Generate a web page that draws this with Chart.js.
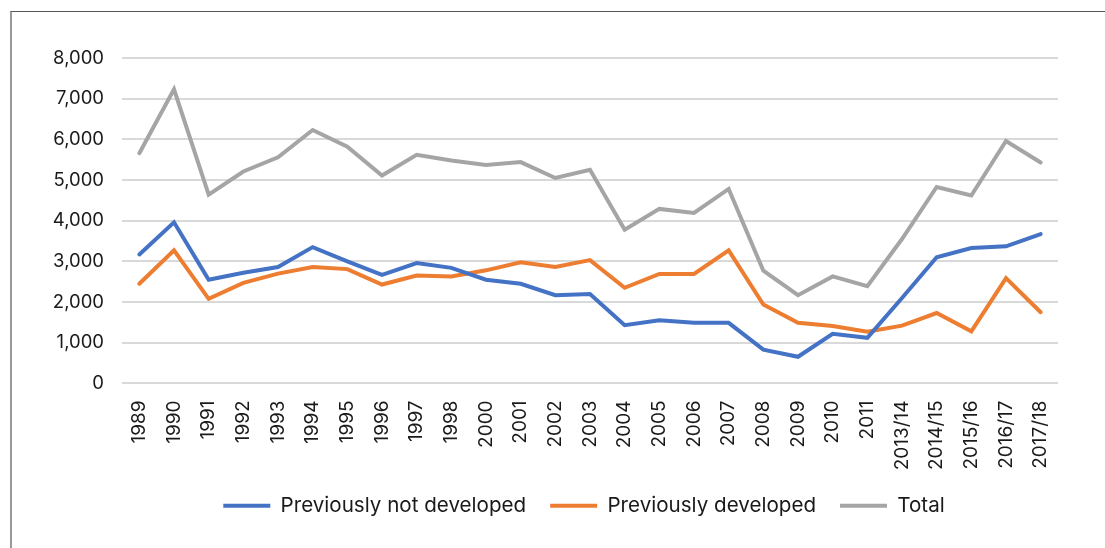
<!DOCTYPE html>
<html>
<head>
<meta charset="utf-8">
<script src="https://cdn.jsdelivr.net/npm/chart.js@4/dist/chart.umd.min.js"></script>
<style>
    html, body { margin: 0; padding: 0; background: #fff; }
    #wrap { position: relative; width: 1105px; height: 548px; overflow: hidden; }
    #frame {
        position: absolute; left: 10px; top: 11px; right: -10px; bottom: -10px;
        border-top: 1px solid #555; border-left: 2px solid #999;
    }
    #chart { position: absolute; left: 0; top: 0; }
</style>
</head>
<body>
<div id="wrap">
    <div id="frame"></div>
    <canvas id="chart" width="1105" height="548"></canvas>
</div>
<script>
// Categories (years)
const years = ['1989', '1990', '1991', '1992', '1993', '1994', '1995', '1996', '1997', '1998',
    '2000', '2001', '2002', '2003', '2004', '2005', '2006', '2007', '2008', '2009', '2010', '2011',
    '2013/14', '2014/15', '2015/16', '2016/17', '2017/18'];

// Series values
const notDeveloped = [3170, 3960, 2550, 2720, 2860, 3350, 3000, 2670, 2960, 2840,
    2550, 2450, 2170, 2200, 1430, 1550, 1490, 1490, 830, 655, 1220, 1120,
    2100, 3100, 3330, 3370, 3670];
const developed = [2450, 3270, 2080, 2470, 2700, 2860, 2810, 2430, 2650, 2630,
    2780, 2980, 2860, 3030, 2350, 2690, 2690, 3270, 1940, 1490, 1410, 1270,
    1420, 1730, 1280, 2590, 1750];
const total = [5660, 7230, 4640, 5210, 5560, 6230, 5820, 5110, 5620, 5480,
    5370, 5440, 5050, 5250, 3780, 4290, 4190, 4780, 2770, 2170, 2630, 2390,
    3550, 4830, 4620, 5960, 5430];

// Y axis ticks
const yTicks = [0, 1000, 2000, 3000, 4000, 5000, 6000, 7000, 8000];

const TEXT = '#1a1a1a';

function series(label, data, color) {
    return {
        label: label,
        data: data,
        borderColor: color,
        backgroundColor: color,
        borderWidth: 4,
        borderCapStyle: 'round',
        borderJoinStyle: 'miter',
        pointRadius: 0,
        tension: 0,
        fill: false
    };
}

// Legend is centred under the plot area rather than the whole canvas
const shiftLegend = {
    id: 'shiftLegend',
    afterLayout: function(chart) {
        chart.legend.left += 55;
        chart.legend.right += 55;
    }
};

const ctx = document.getElementById('chart').getContext('2d');
new Chart(ctx, {
    type: 'line',
    data: {
        labels: years,
        datasets: [
            series('Previously not developed', notDeveloped, '#4472C4'),
            series('Previously developed', developed, '#ED7D31'),
            series('Total', total, '#A5A5A5')
        ]
    },
    options: {
        responsive: false,
        animation: false,
        layout: { padding: { left: 0, right: 47, top: 58, bottom: 22 } },
        plugins: {
            tooltip: { enabled: false },
            legend: {
                position: 'bottom',
                labels: {
                    font: { family: 'Inter', size: 20.6 },
                    color: TEXT,
                    boxWidth: 47,
                    boxHeight: 4,
                    padding: 24,
                    generateLabels: function(chart) {
                        return Chart.defaults.plugins.legend.labels.generateLabels(chart).map(function(item) {
                            item.lineWidth = 0;
                            item.fillStyle = item.strokeStyle;
                            return item;
                        });
                    }
                }
            }
        },
        scales: {
            x: {
                offset: true,
                grid: { display: false, drawTicks: false },
                border: { display: false },
                ticks: {
                    font: { family: 'Inter', size: 19 },
                    color: TEXT,
                    autoSkip: false,
                    minRotation: 90,
                    maxRotation: 90,
                    padding: 17
                },
                afterFit: function(scale) { scale.height = 88; }
            },
            y: {
                min: 0,
                max: 8000,
                afterBuildTicks: function(scale) {
                    scale.ticks = yTicks.map(function(v) { return { value: v }; });
                },
                grid: { color: '#d9d9d9', lineWidth: 2, drawTicks: false },
                border: { display: false },
                ticks: {
                    font: { family: 'Inter', size: 18.5 },
                    color: TEXT,
                    padding: 18,
                    callback: function(value) { return value.toLocaleString('en-US'); }
                },
                afterFit: function(scale) { scale.width = 122; }
            }
        }
    },
    plugins: [shiftLegend]
});
</script>
</body>
</html>
